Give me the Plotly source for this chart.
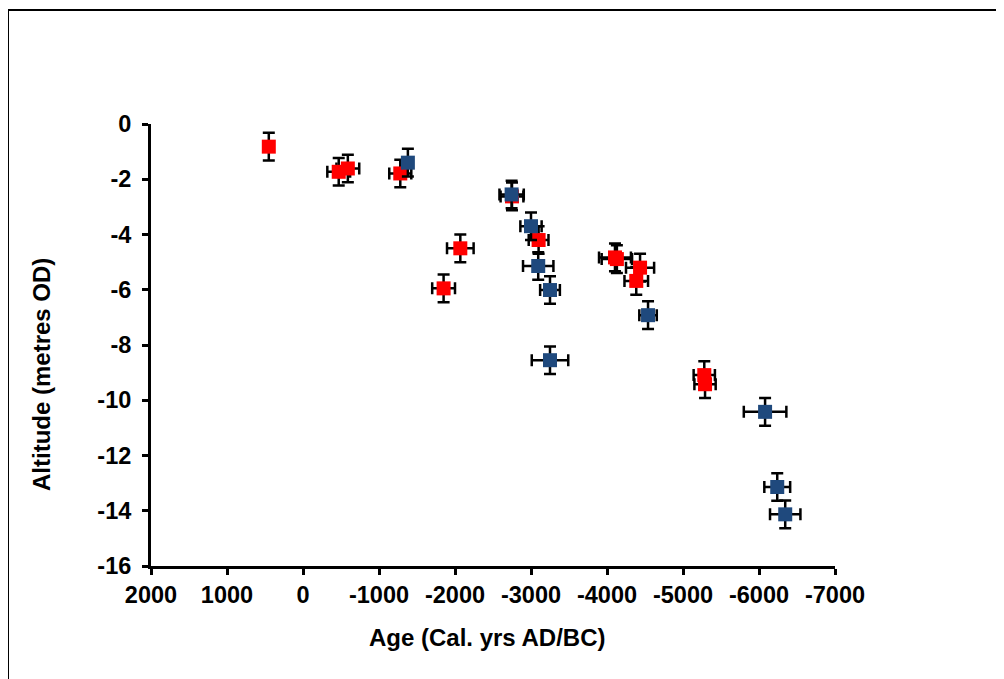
import plotly.graph_objects as go

# ---- data ----
red_age = [450, -470, -590, -1280, -1850, -2070, -2750, -3100, -4105, -4130, -4435, -4385, -5280, -5290]
red_alt = [-0.82, -1.73, -1.61, -1.79, -5.95, -4.50, -2.62, -4.20, -4.83, -4.89, -5.20, -5.68, -9.09, -9.42]
red_age_err = [0, 150, 150, 145, 150, 175, 150, 130, 210, 200, 185, 155, 140, 140]
red_alt_err = [0.5] * len(red_age)

blue_age = [-1380, -2745, -3000, -3095, -3250, -3250, -4540, -6080, -6240, -6345]
blue_alt = [-1.40, -2.55, -3.70, -5.14, -6.01, -8.55, -6.92, -10.42, -13.14, -14.13]
blue_age_err = [60, 160, 140, 200, 130, 240, 115, 280, 170, 200]
blue_alt_err = [0.5] * len(blue_age)

x_tick_vals = [2000, 1000, 0, -1000, -2000, -3000, -4000, -5000, -6000, -7000]
x_tick_text = ["2000", "1000", "0", "-1000", "-2000", "-3000", "-4000", "-5000", "-6000", "-7000"]
y_tick_vals = [0, -2, -4, -6, -8, -10, -12, -14, -16]
y_tick_text = ["0", "-2", "-4", "-6", "-8", "-10", "-12", "-14", "-16"]

x_title = "Age (Cal. yrs AD/BC)"
y_title = "Altitude (metres OD)"

FONT = "Liberation Sans, Arial, sans-serif"

def err(arr):
    return dict(type="data", array=arr, visible=True, color="black", thickness=2.5, width=6)

fig = go.Figure()
fig.add_trace(go.Scatter(
    x=red_age, y=red_alt, mode="markers", name="Red",
    marker=dict(symbol="square", size=14, color="#FF0000", line=dict(width=0)),
    error_x=err(red_age_err), error_y=err(red_alt_err),
    showlegend=False,
))
fig.add_trace(go.Scatter(
    x=blue_age, y=blue_alt, mode="markers", name="Blue",
    marker=dict(symbol="square", size=14, color="#1F497D", line=dict(width=0)),
    error_x=err(blue_age_err), error_y=err(blue_alt_err),
    showlegend=False,
))

OFF = 8  # page body margin
W, H = 1004 - OFF, 679 - OFF
L, R, T, B = 151 - OFF, 835 - OFF, 124 - OFF, 566 - OFF
pw, ph = R - L, B - T

def px(xp):  # reference page px -> paper
    return (xp - OFF - L) / pw

def py(yp):
    return (B - (yp - OFF)) / ph

axis_common = dict(
    showgrid=False, zeroline=False, showline=True, linecolor="black", linewidth=3,
    ticks="outside", ticklen=6, tickwidth=3, tickcolor="black",
    tickfont=dict(family=FONT, size=23.5, color="black", weight="bold"),
)

fig.update_layout(
    width=W, height=H,
    margin=dict(l=L, r=W - R, t=T, b=H - B, pad=0),
    paper_bgcolor="white", plot_bgcolor="white",
    xaxis=dict(range=[2000, -7000], tickmode="array", tickvals=x_tick_vals, ticktext=x_tick_text,
               **axis_common),
    yaxis=dict(range=[-16, 0], tickmode="array", tickvals=y_tick_vals, ticktext=y_tick_text,
               ticklabelstandoff=6, **axis_common),
    annotations=[
        dict(text=x_title, xref="paper", yref="paper", x=px(487), y=py(637),
             xanchor="center", yanchor="middle", showarrow=False,
             font=dict(family=FONT, size=24, color="black", weight="bold")),
        dict(text=y_title, xref="paper", yref="paper", x=px(41), y=py(375),
             xanchor="center", yanchor="middle", showarrow=False, textangle=-90,
             font=dict(family=FONT, size=24, color="black", weight="bold")),
    ],
    shapes=[
        dict(type="rect", xref="paper", yref="paper",
             x0=px(8), x1=px(1030), y0=py(700), y1=py(10),
             line=dict(color="black", width=2), fillcolor="rgba(0,0,0,0)", layer="below"),
    ],
)

fig.write_html("out.html")
